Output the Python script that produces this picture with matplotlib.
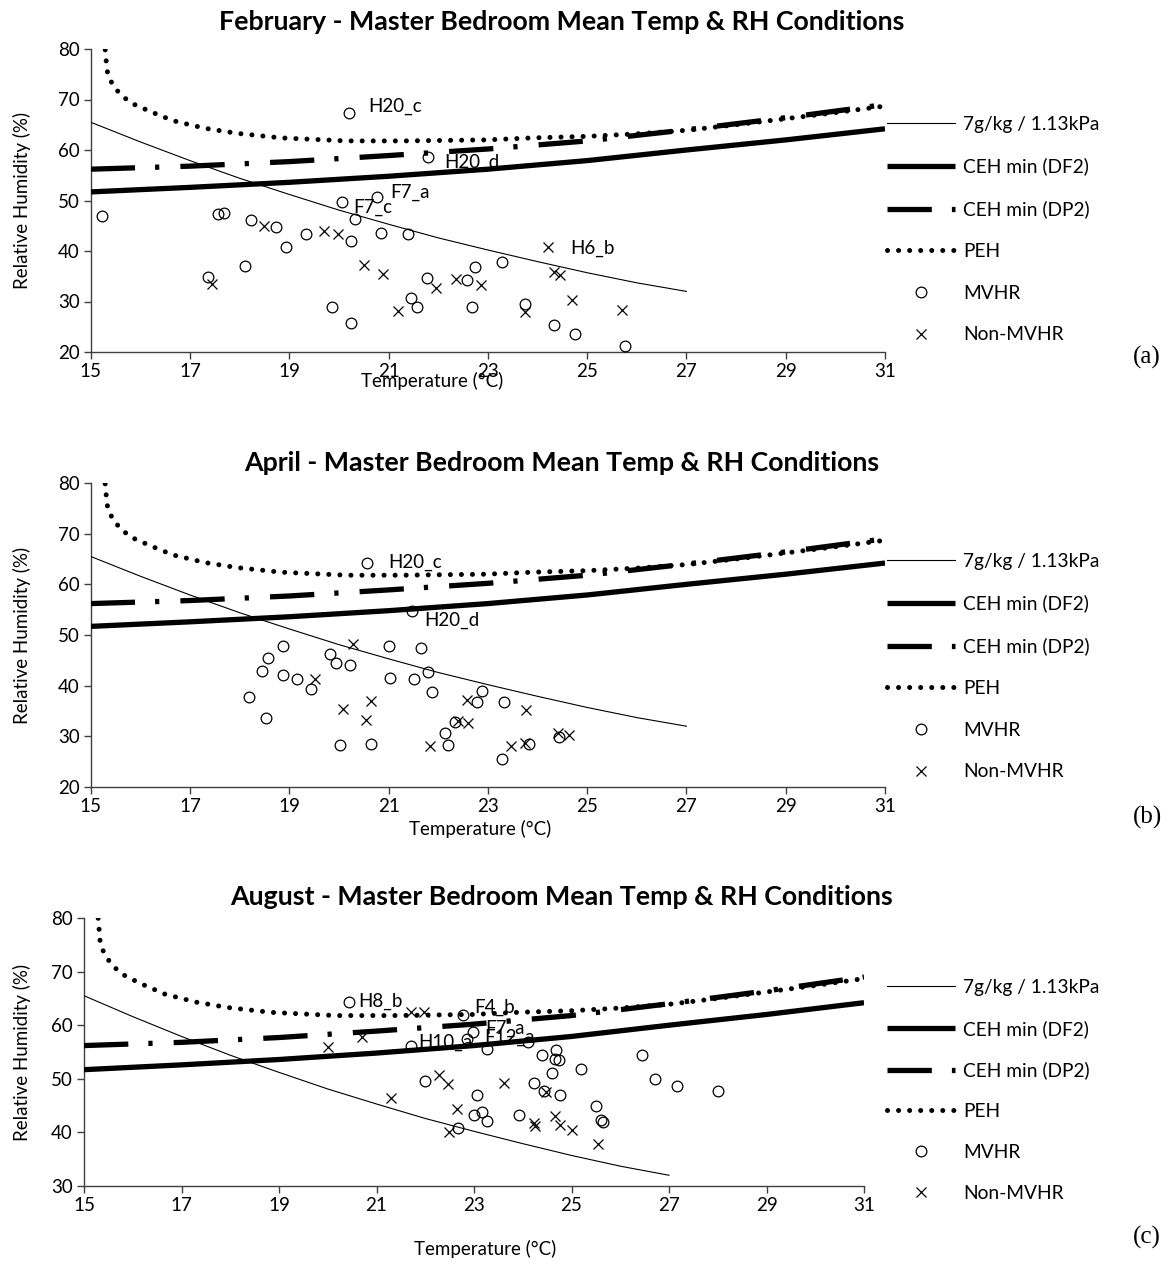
import matplotlib
matplotlib.use("Agg")
import matplotlib.pyplot as plt

W, H = 1167, 1266
DPI = 100

# ---------------- data ----------------
# reference curves
line7_T = [15, 16, 17, 18, 19, 20, 21, 22, 23, 24, 25, 26, 27]
line7_RH = [65.5, 61.6, 57.9, 54.4, 51.2, 48.1, 45.3, 42.6, 40.2, 37.9, 35.7, 33.7, 32.0]

df2_T = [15, 17, 19, 21, 23, 25, 27, 29, 31]
df2_RH = [51.7, 52.6, 53.6, 54.8, 56.2, 57.9, 60.0, 62.0, 64.2]

dp2_T = [15, 17, 19, 21, 23, 25, 27, 29, 31]
dp2_RH = [56.2, 56.8, 57.7, 58.9, 60.2, 61.8, 64.0, 66.4, 69.0]

peh_T = [15.26, 15.29, 15.33, 15.4, 15.52, 15.67, 15.86, 16.23, 16.66, 17.3, 17.95,
         18.83, 20.15, 21.28, 22.97, 23.9, 25.0, 26.0, 27.0, 28.0, 29.0, 30.0, 31.0]
peh_RH = [82.0, 80.0, 75.7, 73.7, 71.9, 70.4, 69.1, 67.5, 65.8, 64.3, 63.3,
          62.4, 61.8, 61.8, 62.0, 62.4, 62.7, 63.2, 63.9, 65.0, 66.2, 67.4, 68.7]

# February
feb_mvhr_T = [15.23, 17.57, 17.69, 18.23, 18.73, 18.94, 19.34, 20.06, 20.33, 20.24, 20.76,
              20.85, 21.40, 20.20, 21.80, 17.37, 18.10, 19.86, 20.24, 21.46, 21.58, 21.78,
              22.57, 22.74, 22.69, 23.28, 23.74, 24.34, 24.75, 25.76]
feb_mvhr_RH = [47.0, 47.3, 47.5, 46.1, 44.8, 40.7, 43.3, 49.8, 46.3, 42.0, 50.6,
               43.6, 43.4, 67.3, 58.7, 34.9, 37.0, 29.0, 25.8, 30.6, 28.9, 34.7,
               34.3, 36.8, 29.0, 37.8, 29.6, 25.3, 23.5, 21.2]
feb_non_T = [18.49, 17.45, 19.69, 19.98, 20.51, 20.89, 21.20, 21.96, 22.36, 22.87,
             24.21, 24.34, 24.46, 24.70, 25.70, 23.75]
feb_non_RH = [45.0, 33.5, 44.0, 43.4, 37.3, 35.5, 28.1, 32.7, 34.5, 33.3,
              40.8, 35.8, 35.2, 30.3, 28.3, 28.0]
feb_labels = [("H20_c", 20.20, 67.3, 19, -7), ("H20_d", 21.80, 58.7, 16, 6),
              ("F7_a", 20.76, 50.6, 14, -5), ("F7_c", 20.06, 49.8, 11, 6),
              ("H6_b", 24.21, 40.8, 22, 1)]

# April
apr_mvhr_T = [20.56, 21.48, 18.88, 18.57, 18.46, 18.88, 19.16, 19.43, 18.18, 18.53, 19.83,
              19.95, 20.22, 21.00, 21.65, 21.02, 21.51, 21.80, 21.87, 20.02, 20.65, 22.14,
              22.20, 22.33, 22.78, 22.89, 23.32, 23.28, 23.83, 24.44]
apr_mvhr_RH = [64.3, 54.7, 47.8, 45.5, 42.8, 42.2, 41.4, 39.3, 37.7, 33.7, 46.3,
               44.4, 44.1, 47.8, 47.4, 41.6, 41.3, 42.6, 38.8, 28.3, 28.4, 30.6,
               28.2, 32.8, 36.7, 38.9, 36.7, 25.5, 28.4, 29.9]
apr_non_T = [20.29, 19.51, 20.08, 20.65, 20.54, 21.83, 22.57, 22.40, 22.60, 23.77,
             23.47, 23.74, 24.41, 24.64]
apr_non_RH = [48.3, 41.3, 35.3, 37.0, 33.2, 28.1, 37.1, 33.1, 32.6, 35.2,
              28.0, 28.6, 30.6, 30.3]
apr_labels = [("H20_c", 20.56, 64.3, 22, 0), ("H20_d", 21.48, 54.7, 12, 9)]

# August
aug_mvhr_T = [20.44, 21.71, 22.77, 22.98, 22.86, 23.27, 22.00, 23.07, 23.01, 23.17, 23.27,
              22.67, 24.10, 24.40, 24.69, 24.66, 24.75, 24.61, 25.20, 24.24, 24.44, 24.77,
              23.92, 25.51, 25.60, 25.65, 26.44, 26.71, 27.17, 28.00]
aug_mvhr_RH = [64.3, 56.2, 61.9, 58.7, 57.4, 55.6, 49.5, 46.9, 43.3, 43.8, 42.2,
               40.8, 56.9, 54.5, 55.4, 53.7, 53.5, 51.1, 51.8, 49.2, 47.8, 47.0,
               43.3, 45.0, 42.3, 42.0, 54.4, 49.9, 48.7, 47.8]
aug_non_T = [20.00, 20.71, 21.71, 21.98, 22.29, 22.46, 21.30, 22.65, 22.48, 23.61,
             24.47, 24.24, 24.26, 24.66, 24.77, 25.00, 25.55]
aug_non_RH = [56.0, 57.8, 62.4, 62.4, 50.7, 49.1, 46.4, 44.4, 40.0, 49.3,
              47.6, 41.7, 41.2, 43.1, 41.4, 40.5, 37.8]
aug_labels = [("H8_b", 20.44, 64.3, 9, -1), ("F4_b", 22.77, 61.9, 11, -8),
              ("F7_a", 22.98, 58.7, 12, -4), ("H10_a", 21.71, 56.2, 7, -3),
              ("F12_a", 22.86, 57.4, 17, -2)]

x_ticks = [15, 17, 19, 21, 23, 25, 27, 29, 31]
legend_labels = ["7g/kg / 1.13kPa", "CEH min (DF2)", "CEH min (DP2)", "PEH", "MVHR", "Non-MVHR"]
titles = ["February - Master Bedroom Mean Temp & RH Conditions",
          "April - Master Bedroom Mean Temp & RH Conditions",
          "August - Master Bedroom Mean Temp & RH Conditions"]

# ---------------- layout (pixels) ----------------
panels = [
    dict(box=(90.7, 49, 885, 352), ylim=(20, 80), yticks=[20, 30, 40, 50, 60, 70, 80],
         mT=feb_mvhr_T, mR=feb_mvhr_RH, nT=feb_non_T, nR=feb_non_RH, labels=feb_labels,
         title_y=22, xlab_x=432, xlab_y=381, leg_top=116, lsp=1.29, tag="(a)", tag_y=357,
         ylab_y=200),
    dict(box=(90.7, 483, 885, 787), ylim=(20, 80), yticks=[20, 30, 40, 50, 60, 70, 80],
         mT=apr_mvhr_T, mR=apr_mvhr_RH, nT=apr_non_T, nR=apr_non_RH, labels=apr_labels,
         title_y=463, xlab_x=480, xlab_y=829, leg_top=553, lsp=1.29, tag="(b)", tag_y=817,
         ylab_y=635),
    dict(box=(84, 918, 864, 1186), ylim=(30, 80), yticks=[30, 40, 50, 60, 70, 80],
         mT=aug_mvhr_T, mR=aug_mvhr_RH, nT=aug_non_T, nR=aug_non_RH, labels=aug_labels,
         title_y=897, xlab_x=485, xlab_y=1249, leg_top=979, lsp=1.24, tag="(c)", tag_y=1237,
         ylab_y=1052),
]

plt.rcParams['font.family'] = ['Lato', 'DejaVu Sans']
fig = plt.figure(figsize=(W / DPI, H / DPI), dpi=DPI)
fig.patch.set_facecolor("white")

AX_COL = "#404040"
FS = 13.8

for i, p in enumerate(panels):
    x0, y0, x1, y1 = p["box"]
    ax = fig.add_axes([x0 / W, 1 - y1 / H, (x1 - x0) / W, (y1 - y0) / H])
    ax.set_xlim(15, 31)
    ax.set_ylim(*p["ylim"])
    ax.set_xticks(x_ticks)
    ax.set_yticks(p["yticks"])
    for s in ["top", "right"]:
        ax.spines[s].set_visible(False)
    for s in ["left", "bottom"]:
        ax.spines[s].set_color(AX_COL)
        ax.spines[s].set_linewidth(1.0)
    ax.tick_params(direction="out", length=5, width=1.0, color=AX_COL,
                   labelsize=13.5, pad=3)

    h7, = ax.plot(line7_T, line7_RH, color="black", lw=0.8, zorder=3)
    hdf, = ax.plot(df2_T, df2_RH, color="black", lw=3.8, solid_capstyle="butt", zorder=3)
    hdp, = ax.plot(dp2_T, dp2_RH, color="black", lw=3.8,
                   linestyle=(0, (8.4, 3.8, 0.8, 4.0)), dash_capstyle="butt", zorder=3)
    hpe, = ax.plot(peh_T, peh_RH, color="black", lw=3.6,
                   linestyle=(0, (0.01, 2.2)), dash_capstyle="round", zorder=3)
    hm, = ax.plot(p["mT"], p["mR"], linestyle="none", marker="o", markersize=7.7,
                  markerfacecolor="none", markeredgecolor="black", markeredgewidth=0.9,
                  zorder=4)
    hn, = ax.plot(p["nT"], p["nR"], linestyle="none", marker="x", markersize=7.5,
                  markeredgecolor="black", markeredgewidth=0.9, zorder=4)

    for (txt, tx, ty, dx, dy) in p["labels"]:
        ax.annotate(txt, (tx, ty), xytext=(dx * 0.72, -dy * 0.72), textcoords="offset points",
                    ha="left", va="center", fontsize=13.5, zorder=5)

    ax.legend([h7, hdf, hdp, hpe, hm, hn], legend_labels,
              loc="upper left", bbox_to_anchor=(887 / W, 1 - p["leg_top"] / H),
              bbox_transform=fig.transFigure, frameon=False, fontsize=FS,
              handlelength=3.55, handletextpad=0.42, labelspacing=p["lsp"],
              borderpad=0, borderaxespad=0)

    fig.text(562 / W, 1 - p["title_y"] / H, titles[i], ha="center",
             va="center", fontsize=19.3, fontweight="bold")
    fig.text(p["xlab_x"] / W, 1 - p["xlab_y"] / H, "Temperature (°C)", ha="center",
             va="center", fontsize=13.5)
    fig.text(22 / W, 1 - p["ylab_y"] / H, "Relative Humidity (%)", ha="center",
             va="center", rotation=90, fontsize=13.5)
    fig.text(1147 / W, 1 - p["tag_y"] / H, p["tag"], ha="center", va="center",
             fontsize=18, family="Liberation Serif")

fig.savefig("out.png", dpi=DPI, facecolor="white")
